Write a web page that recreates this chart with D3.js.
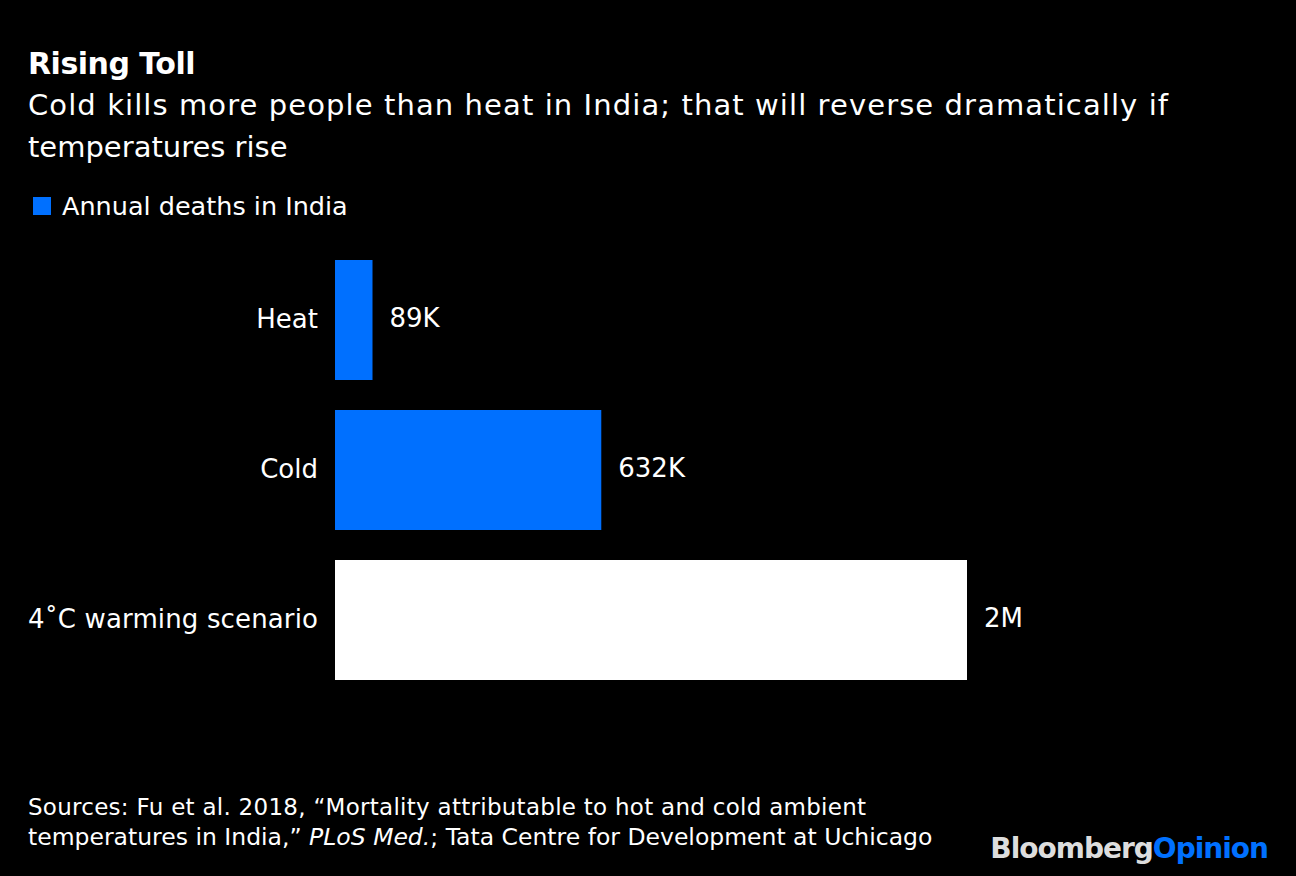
<!DOCTYPE html>
<html><head><meta charset="utf-8">
<script src="https://cdn.jsdelivr.net/npm/d3@7"></script>
<style>body{margin:0;background:#000}svg{display:block;font-family:"DejaVu Sans",sans-serif}</style>
</head><body><svg id="c" width="1296" height="876"></svg>
<script>
const categories = ["Heat", "Cold", "4˚C warming scenario"];
const values = [89, 632, 1500];
const valueLabels = ["89K", "632K", "2M"];
const barColors = ["#0070ff", "#0070ff", "#ffffff"];

const svg = d3.select("#c");
svg.append("rect").attr("width",1296).attr("height",876).attr("fill","#000");
const x = d3.scaleLinear().domain([0,1500]).range([335,967]);
const y = d3.scaleBand().domain(categories).range([245,695]).paddingInner(0.2).paddingOuter(0.1);

svg.append("text").attr("x",28).attr("y",74).attr("fill","#fff").attr("font-size",30).attr("font-weight","bold").attr("letter-spacing","-0.5").text("Rising Toll");
["Cold kills more people than heat in India; that will reverse dramatically if","temperatures rise"].forEach((t,i)=>
  svg.append("text").attr("x",28).attr("y",115+i*42).attr("fill","#fff").attr("font-size",29).attr("textLength", i===0?1140:null).text(t));
svg.append("rect").attr("x",33).attr("y",197).attr("width",18).attr("height",18).attr("fill","#0070ff");
svg.append("text").attr("x",62).attr("y",215).attr("fill","#fff").attr("font-size",25.5).text("Annual deaths in India");

const g = svg.append("g");
categories.forEach((c,i)=>{
  g.append("rect").attr("x",x(0)).attr("y",y(c)).attr("width",x(values[i])-x(0)).attr("height",y.bandwidth()).attr("fill",barColors[i]);
  g.append("text").attr("x",318).attr("y",y(c)+y.bandwidth()/2+8).attr("text-anchor","end").attr("fill","#fff").attr("font-size",26).attr("textLength", i===2?290:null).text(c);
  g.append("text").attr("x",x(values[i])+17).attr("y",y(c)+y.bandwidth()/2+7).attr("fill","#fff").attr("font-size",26).text(valueLabels[i]);
});

svg.append("text").attr("x",28).attr("y",815).attr("fill","#fff").attr("font-size",23).attr("textLength",838).text("Sources: Fu et al. 2018, “Mortality attributable to hot and cold ambient");
const f2 = svg.append("text").attr("x",28).attr("y",845).attr("fill","#fff").attr("font-size",23.5);
f2.append("tspan").text("temperatures in India,” ");
f2.append("tspan").attr("font-style","italic").text("PLoS Med.");
f2.append("tspan").text("; Tata Centre for Development at Uchicago");
const logo = svg.append("text").attr("x",1268).attr("y",858).attr("text-anchor","end").attr("font-size",28).attr("font-weight","bold").attr("letter-spacing","-1");
logo.append("tspan").attr("fill","#ddd").text("Bloomberg");
logo.append("tspan").attr("fill","#0070ff").text("Opinion");
</script></body></html>
